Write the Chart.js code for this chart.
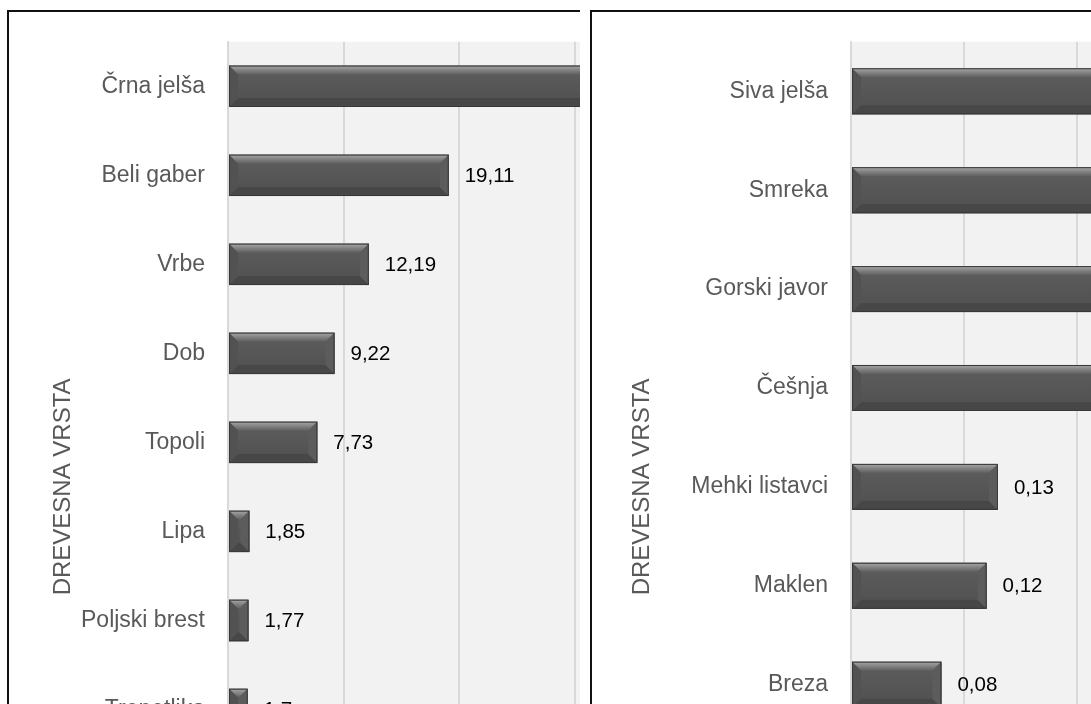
<!DOCTYPE html>
<html>
<head>
<meta charset="utf-8">
<script src="https://cdn.jsdelivr.net/npm/chart.js@4"></script>
<style>
  html, body { margin: 0; padding: 0; background: #fff; overflow: hidden; }
  .clip { position: absolute; top: 10px; height: 694px; overflow: hidden; }
  .panel { border: 2px solid #111; position: absolute; left: 0; top: 0; width: 1700px; height: 1000px; background: #fff; }
  .panel canvas { display: block; position: absolute; left: 0; top: -7px; }
</style>
</head>
<body>
<div class="clip" style="left:7px;width:573px;">
  <div class="panel"><canvas id="chart_left" width="820" height="982"></canvas></div>
</div>
<div class="clip" style="left:590px;width:501px;">
  <div class="panel"><canvas id="chart_right" width="1640" height="982"></canvas></div>
</div>
<script>
  const leftCats = ['Črna jelša', 'Beli gaber', 'Vrbe', 'Dob', 'Topoli', 'Lipa', 'Poljski brest', 'Trepetlika', 'Veliki jesen', 'Hrast'];
  const leftVals = [38.6, 19.11, 12.19, 9.22, 7.73, 1.85, 1.77, 1.7, 1.12, 0.96];

  const rightCats = ['Siva jelša', 'Smreka', 'Gorski javor', 'Češnja', 'Mehki listavci', 'Maklen', 'Breza', 'Bukev', 'Jelka'];
  const rightVals = [0.74, 0.52, 0.38, 0.26, 0.13, 0.12, 0.08, 0.05, 0.03];

  const FONT = "'Liberation Sans', Arial, sans-serif";
  const GREY_TEXT = '#595959';
  const GRID = '#d9d9d9';

  // grey plot background
  const plotBg = {
    id: 'plotBg',
    beforeDraw(chart) {
      const a = chart.chartArea, ctx = chart.ctx;
      ctx.save();
      ctx.fillStyle = '#f2f2f2';
      ctx.fillRect(a.left, a.top, a.right - a.left, a.bottom - a.top);
      ctx.restore();
    }
  };

  function poly(ctx, pts, fill) {
    ctx.beginPath();
    ctx.moveTo(pts[0][0], pts[0][1]);
    for (let i = 1; i < pts.length; i++) ctx.lineTo(pts[i][0], pts[i][1]);
    ctx.closePath();
    ctx.fillStyle = fill;
    ctx.fill();
  }

  // bevelled bars drawn over the plain bar rectangles
  const bevel = {
    id: 'bevel',
    afterDatasetsDraw(chart) {
      const ctx = chart.ctx;
      const meta = chart.getDatasetMeta(0);
      ctx.save();
      ctx.beginPath();
      ctx.rect(chart.chartArea.left, chart.chartArea.top, chart.chartArea.right - chart.chartArea.left, chart.chartArea.bottom - chart.chartArea.top);
      ctx.clip();
      meta.data.forEach(el => {
        const p = el.getProps(['x', 'y', 'base', 'height'], true);
        const x0 = Math.min(p.base, p.x), x1 = Math.max(p.base, p.x);
        const y0 = p.y - p.height / 2, y1 = p.y + p.height / 2;
        const b = Math.min(9, (x1 - x0) / 2, p.height / 2);

        const body = ctx.createLinearGradient(0, y0, 0, y1);
        body.addColorStop(0, '#5e5e5e');
        body.addColorStop(1, '#4f4f4f');
        ctx.fillStyle = body;
        ctx.fillRect(x0, y0, x1 - x0, y1 - y0);

        const top = ctx.createLinearGradient(0, y0, 0, y0 + b);
        top.addColorStop(0, '#a8a8a8');
        top.addColorStop(0.5, '#828282');
        top.addColorStop(1, '#5f5f5f');
        poly(ctx, [[x0, y0], [x1, y0], [x1 - b, y0 + b], [x0 + b, y0 + b]], top);
        poly(ctx, [[x0, y1], [x1, y1], [x1 - b, y1 - b], [x0 + b, y1 - b]], '#474747');
        poly(ctx, [[x0, y0], [x0 + b, y0 + b], [x0 + b, y1 - b], [x0, y1]], '#525252');
        poly(ctx, [[x1, y0], [x1 - b, y0 + b], [x1 - b, y1 - b], [x1, y1]], '#5c5c5c');

        ctx.strokeStyle = '#383838';
        ctx.lineWidth = 1;
        ctx.strokeRect(x0 + 0.5, y0 + 0.5, x1 - x0 - 1, y1 - y0 - 1);
      });
      ctx.restore();
    }
  };

  // value labels to the right of each bar, decimal comma
  const valueLabels = {
    id: 'valueLabels',
    afterDatasetsDraw(chart) {
      const ctx = chart.ctx;
      const meta = chart.getDatasetMeta(0);
      const vals = chart.data.datasets[0].data;
      ctx.save();
      ctx.font = '20.5px ' + FONT;
      ctx.fillStyle = '#000';
      ctx.textAlign = 'left';
      ctx.textBaseline = 'middle';
      meta.data.forEach((el, i) => {
        ctx.fillText(String(vals[i]).replace('.', ','), el.x + 16, el.y + 1);
      });
      ctx.restore();
    }
  };

  function makeChart(id, cats, vals, axisW, titlePad, xMax, xStep, padRight) {
    return new Chart(document.getElementById(id), {
      type: 'bar',
      data: {
        labels: cats,
        datasets: [{
          data: vals,
          backgroundColor: '#555555',
          borderWidth: 0,
          barPercentage: 0.465,
          categoryPercentage: 1
        }]
      },
      options: {
        indexAxis: 'y',
        responsive: false,
        animation: false,
        layout: { padding: { top: 22, left: 0, right: padRight, bottom: 15 } },
        plugins: {
          legend: { display: false },
          tooltip: { enabled: false }
        },
        scales: {
          y: {
            afterFit(s) { s.width = axisW; },
            grid: { display: false, drawTicks: false },
            border: { display: true, color: GRID, width: 2 },
            ticks: { padding: 23, color: GREY_TEXT, font: { family: FONT, size: 23 } },
            title: {
              display: true,
              text: 'DREVESNA VRSTA',
              color: GREY_TEXT,
              font: { family: FONT, size: 24 },
              padding: { top: titlePad, bottom: 0 }
            }
          },
          x: {
            min: 0,
            max: xMax,
            afterFit(s) { s.height = 40; },
            grid: { color: GRID, lineWidth: 2, drawTicks: false },
            border: { display: false },
            ticks: {
              stepSize: xStep,
              padding: 8,
              color: GREY_TEXT,
              font: { family: FONT, size: 20 },
              callback: v => String(Math.round(v * 100) / 100).replace('.', ',')
            }
          }
        }
      },
      plugins: [plotBg, bevel, valueLabels]
    });
  }

  makeChart('chart_left', leftCats, leftVals, 219, 40, 50, 10, 23.5);
  makeChart('chart_right', rightCats, rightVals, 259, 36, 1.2, 0.1, 25);
</script>
</body>
</html>
